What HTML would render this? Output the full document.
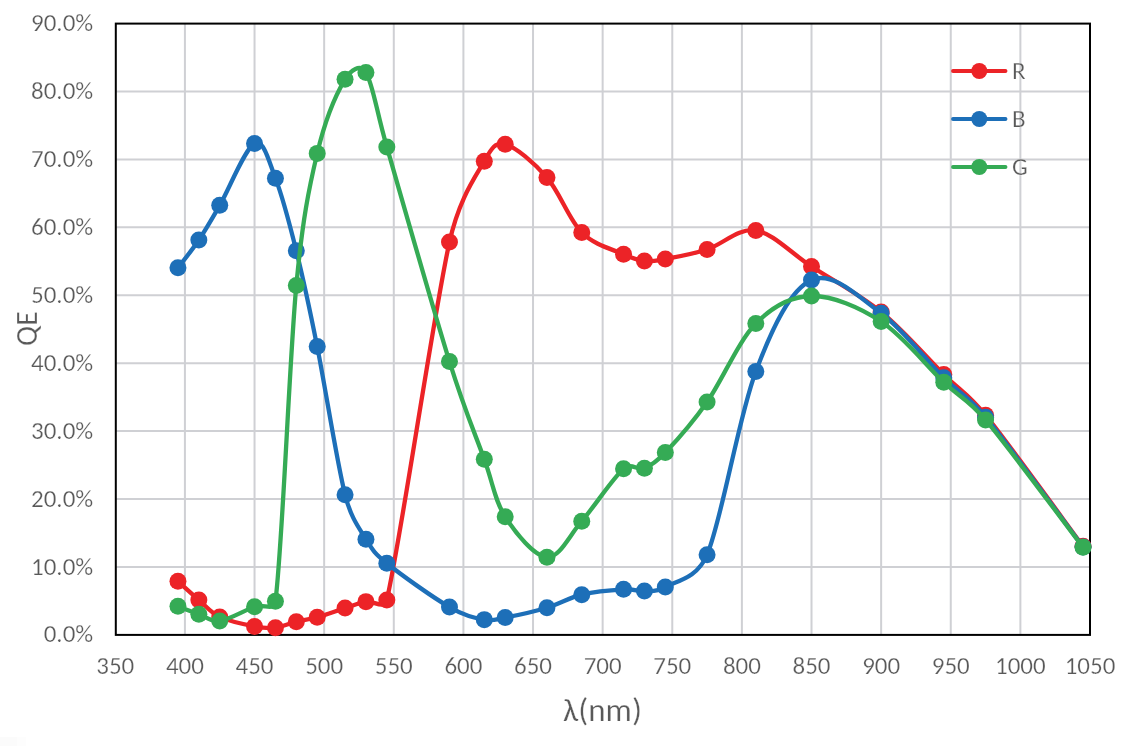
<!DOCTYPE html>
<html><head><meta charset="utf-8"><title>QE chart</title>
<style>html,body{margin:0;padding:0;background:#fff;width:1131px;height:746px;overflow:hidden}</style>
</head><body>
<svg width="1131" height="746" viewBox="0 0 1131 746" style="position:absolute;left:0;top:0;filter:blur(0.40px)">
<rect width="1131" height="746" fill="#fff"/>
<rect x="0" y="737" width="17" height="9" fill="#fbfbfb"/><rect x="17" y="737" width="9" height="9" fill="#fdfdfd"/>
<path d="M184.92,23.60V634.85M254.54,23.60V634.85M324.16,23.60V634.85M393.79,23.60V634.85M463.41,23.60V634.85M533.03,23.60V634.85M602.65,23.60V634.85M672.27,23.60V634.85M741.89,23.60V634.85M811.51,23.60V634.85M881.14,23.60V634.85M950.76,23.60V634.85M1020.38,23.60V634.85M115.30,566.93H1090.00M115.30,499.02H1090.00M115.30,431.10H1090.00M115.30,363.18H1090.00M115.30,295.27H1090.00M115.30,227.35H1090.00M115.30,159.43H1090.00M115.30,91.52H1090.00" stroke="#CFD0D4" stroke-width="2" fill="none"/>
<rect x="115.8" y="23.6" width="974.2" height="611.3" fill="none" stroke="#000" stroke-width="2"/>
<path d="M177.96,581.32 C181.44,584.43 191.88,594.00 198.85,599.93 C205.81,605.86 210.45,612.50 219.73,616.91 C229.02,621.33 245.26,624.61 254.54,626.42 C263.83,628.23 268.47,628.57 275.43,627.78 C282.39,626.99 289.35,623.42 296.32,621.67 C303.28,619.91 309.08,619.52 317.20,617.25 C325.32,614.99 336.93,610.69 345.05,608.08 C353.17,605.48 358.98,602.99 365.94,601.63 C372.90,600.27 384.45,610.14 386.82,599.93 C400.75,540.00 433.24,315.14 449.48,242.01 C459.03,199.06 475.01,177.49 484.29,161.19 C490.95,149.50 494.74,141.50 505.18,144.21 C515.62,146.93 534.19,162.78 546.95,177.49 C559.72,192.21 569.00,219.71 581.76,232.50 C594.53,245.30 613.09,249.48 623.54,254.24 C633.53,258.79 637.46,260.24 644.42,261.03 C651.38,261.82 654.99,260.89 665.31,258.99 C675.75,257.07 692.00,254.24 707.08,249.48 C722.17,244.73 738.41,227.64 755.82,230.47 C773.22,233.30 790.63,252.88 811.51,266.46 C832.40,280.05 859.09,293.97 881.14,311.97 C903.18,329.96 926.39,357.24 943.79,374.45 C961.20,391.66 967.20,392.53 985.57,415.20 C1008.77,443.84 1066.79,524.43 1083.04,546.28" stroke="#EC2327" stroke-width="4.30" fill="none" stroke-linejoin="round" stroke-linecap="round"/>
<g fill="#EC2327"><circle cx="177.96" cy="581.32" r="8.50"/><circle cx="198.85" cy="599.93" r="8.50"/><circle cx="219.73" cy="616.91" r="8.50"/><circle cx="254.54" cy="626.42" r="8.50"/><circle cx="275.43" cy="627.78" r="8.50"/><circle cx="296.32" cy="621.67" r="8.50"/><circle cx="317.20" cy="617.25" r="8.50"/><circle cx="345.05" cy="608.08" r="8.50"/><circle cx="365.94" cy="601.63" r="8.50"/><circle cx="386.82" cy="599.93" r="8.50"/><circle cx="449.48" cy="242.01" r="8.50"/><circle cx="484.29" cy="161.19" r="8.50"/><circle cx="505.18" cy="144.21" r="8.50"/><circle cx="546.95" cy="177.49" r="8.50"/><circle cx="581.76" cy="232.50" r="8.50"/><circle cx="623.54" cy="254.24" r="8.50"/><circle cx="644.42" cy="261.03" r="8.50"/><circle cx="665.31" cy="258.99" r="8.50"/><circle cx="707.08" cy="249.48" r="8.50"/><circle cx="755.82" cy="230.47" r="8.50"/><circle cx="811.51" cy="266.46" r="8.50"/><circle cx="881.14" cy="311.97" r="8.50"/><circle cx="943.79" cy="374.45" r="8.50"/><circle cx="985.57" cy="415.20" r="8.50"/><circle cx="1083.04" cy="546.28" r="8.50"/></g>
<path d="M177.96,267.82 C181.44,263.18 191.88,250.39 198.85,239.98 C205.81,229.56 210.45,221.41 219.73,205.34 C229.02,189.26 245.26,148.06 254.54,143.53 C263.83,139.01 268.47,160.29 275.43,178.17 C282.39,196.06 289.35,222.77 296.32,250.84 C303.28,278.91 309.08,305.97 317.20,346.60 C325.32,387.24 336.93,462.57 345.05,494.66 C351.08,518.48 358.98,527.72 365.94,539.15 C372.90,550.58 374.45,553.20 386.82,563.26 C400.75,574.58 433.24,597.67 449.48,607.06 C465.50,616.33 475.01,617.87 484.29,619.63 C493.58,621.38 494.87,619.55 505.18,617.59 C515.62,615.61 534.19,611.56 546.95,607.74 C559.72,603.93 569.00,597.77 581.76,594.70 C594.53,591.64 613.09,589.94 623.54,589.34 C633.98,588.74 637.46,591.49 644.42,591.10 C651.38,590.72 656.10,592.37 665.31,587.03 C675.75,580.97 696.87,579.10 707.08,554.77 C722.17,518.83 738.41,417.18 755.82,371.39 C773.22,325.61 790.63,289.72 811.51,280.05 C832.40,270.37 859.09,297.02 881.14,313.32 C903.18,329.62 926.39,360.53 943.79,377.85 C961.20,395.16 967.32,395.07 985.57,417.24 C1008.77,445.42 1066.79,525.34 1083.04,546.96" stroke="#1D6FB8" stroke-width="4.30" fill="none" stroke-linejoin="round" stroke-linecap="round"/>
<g fill="#1D6FB8"><circle cx="177.96" cy="267.82" r="8.50"/><circle cx="198.85" cy="239.98" r="8.50"/><circle cx="219.73" cy="205.34" r="8.50"/><circle cx="254.54" cy="143.53" r="8.50"/><circle cx="275.43" cy="178.17" r="8.50"/><circle cx="296.32" cy="250.84" r="8.50"/><circle cx="317.20" cy="346.60" r="8.50"/><circle cx="345.05" cy="494.66" r="8.50"/><circle cx="365.94" cy="539.15" r="8.50"/><circle cx="386.82" cy="563.26" r="8.50"/><circle cx="449.48" cy="607.06" r="8.50"/><circle cx="484.29" cy="619.63" r="8.50"/><circle cx="505.18" cy="617.59" r="8.50"/><circle cx="546.95" cy="607.74" r="8.50"/><circle cx="581.76" cy="594.70" r="8.50"/><circle cx="623.54" cy="589.34" r="8.50"/><circle cx="644.42" cy="591.10" r="8.50"/><circle cx="665.31" cy="587.03" r="8.50"/><circle cx="707.08" cy="554.77" r="8.50"/><circle cx="755.82" cy="371.39" r="8.50"/><circle cx="811.51" cy="280.05" r="8.50"/><circle cx="881.14" cy="313.32" r="8.50"/><circle cx="943.79" cy="377.85" r="8.50"/><circle cx="985.57" cy="417.24" r="8.50"/><circle cx="1083.04" cy="546.96" r="8.50"/></g>
<path d="M177.96,606.25 C181.44,607.57 191.88,611.74 198.85,614.20 C205.81,616.65 210.45,622.23 219.73,620.99 C229.02,619.74 245.26,610.01 254.54,606.73 C263.83,603.44 274.04,611.99 275.43,601.29 C282.39,547.75 289.35,360.13 296.32,285.48 C302.53,218.90 309.08,187.74 317.20,153.38 C325.32,119.03 336.93,92.82 345.05,79.35 C350.72,69.95 360.16,63.22 365.94,72.56 C372.90,83.82 376.10,109.83 386.82,146.93 C400.75,195.09 433.24,309.48 449.48,361.55 C464.94,411.10 475.01,433.48 484.29,459.35 C493.58,485.21 494.74,500.44 505.18,516.74 C515.62,533.04 534.19,556.41 546.95,557.15 C559.72,557.88 569.00,535.87 581.76,521.15 C594.53,506.43 613.09,477.68 623.54,468.85 C631.52,462.11 637.46,470.89 644.42,468.18 C651.38,465.46 656.35,462.03 665.31,452.55 C675.75,441.52 692.00,423.46 707.08,401.96 C722.17,380.45 738.41,341.17 755.82,323.51 C773.22,305.85 790.63,296.35 811.51,296.01 C832.40,295.67 859.09,307.10 881.14,321.48 C903.18,335.85 926.39,365.85 943.79,382.26 C961.20,398.67 967.42,398.46 985.57,419.95 C1008.77,447.45 1066.79,526.02 1083.04,547.23" stroke="#35AB55" stroke-width="4.30" fill="none" stroke-linejoin="round" stroke-linecap="round"/>
<g fill="#35AB55"><circle cx="177.96" cy="606.25" r="8.50"/><circle cx="198.85" cy="614.20" r="8.50"/><circle cx="219.73" cy="620.99" r="8.50"/><circle cx="254.54" cy="606.73" r="8.50"/><circle cx="275.43" cy="601.29" r="8.50"/><circle cx="296.32" cy="285.48" r="8.50"/><circle cx="317.20" cy="153.38" r="8.50"/><circle cx="345.05" cy="79.35" r="8.50"/><circle cx="365.94" cy="72.56" r="8.50"/><circle cx="386.82" cy="146.93" r="8.50"/><circle cx="449.48" cy="361.55" r="8.50"/><circle cx="484.29" cy="459.35" r="8.50"/><circle cx="505.18" cy="516.74" r="8.50"/><circle cx="546.95" cy="557.15" r="8.50"/><circle cx="581.76" cy="521.15" r="8.50"/><circle cx="623.54" cy="468.85" r="8.50"/><circle cx="644.42" cy="468.18" r="8.50"/><circle cx="665.31" cy="452.55" r="8.50"/><circle cx="707.08" cy="401.96" r="8.50"/><circle cx="755.82" cy="323.51" r="8.50"/><circle cx="811.51" cy="296.01" r="8.50"/><circle cx="881.14" cy="321.48" r="8.50"/><circle cx="943.79" cy="382.26" r="8.50"/><circle cx="985.57" cy="419.95" r="8.50"/><circle cx="1083.04" cy="547.23" r="8.50"/></g>
<g font-family="Carlito, 'Liberation Sans', sans-serif" style="font-size-adjust:0.4775" font-size="25" fill="#595959" stroke="#fff" stroke-width="0.25" text-anchor="end">
<text x="93.2" y="642.45">0.0%</text>
<text x="93.2" y="574.53">10.0%</text>
<text x="93.2" y="506.62">20.0%</text>
<text x="93.2" y="438.70">30.0%</text>
<text x="93.2" y="370.78">40.0%</text>
<text x="93.2" y="302.87">50.0%</text>
<text x="93.2" y="234.95">60.0%</text>
<text x="93.2" y="167.03">70.0%</text>
<text x="93.2" y="99.12">80.0%</text>
<text x="93.2" y="31.20">90.0%</text>
</g>
<g font-family="Carlito, 'Liberation Sans', sans-serif" style="font-size-adjust:0.4775" font-size="25" fill="#595959" stroke="#fff" stroke-width="0.25" text-anchor="middle">
<text x="115.30" y="674">350</text>
<text x="184.92" y="674">400</text>
<text x="254.54" y="674">450</text>
<text x="324.16" y="674">500</text>
<text x="393.79" y="674">550</text>
<text x="463.41" y="674">600</text>
<text x="533.03" y="674">650</text>
<text x="602.65" y="674">700</text>
<text x="672.27" y="674">750</text>
<text x="741.89" y="674">800</text>
<text x="811.51" y="674">850</text>
<text x="881.14" y="674">900</text>
<text x="950.76" y="674">950</text>
<text x="1020.38" y="674">1000</text>
<text x="1090.00" y="674">1050</text>
</g>
<text font-family="Carlito, 'Liberation Sans', sans-serif" style="font-size-adjust:0.4775" font-size="33" fill="#595959" stroke="#fff" stroke-width="0.25" text-anchor="middle" x="602.5" y="720.5">λ(nm)</text>
<text font-family="Carlito, 'Liberation Sans', sans-serif" style="font-size-adjust:0.4775" font-size="30" fill="#595959" stroke="#fff" stroke-width="0.25" text-anchor="middle" transform="translate(37,328.5) rotate(-90)">QE</text>
<path d="M953,71.0H1005.5" stroke="#EC2327" stroke-width="3.90" stroke-linecap="round"/>
<circle cx="979.3" cy="71.0" r="8.00" fill="#EC2327"/>
<text font-family="Carlito, 'Liberation Sans', sans-serif" style="font-size-adjust:0.4775" font-size="25" fill="#595959" stroke="#fff" stroke-width="0.25" x="1012" y="79.0">R</text>
<path d="M953,119.0H1005.5" stroke="#1D6FB8" stroke-width="3.90" stroke-linecap="round"/>
<circle cx="979.3" cy="119.0" r="8.00" fill="#1D6FB8"/>
<text font-family="Carlito, 'Liberation Sans', sans-serif" style="font-size-adjust:0.4775" font-size="25" fill="#595959" stroke="#fff" stroke-width="0.25" x="1012" y="127.0">B</text>
<path d="M953,167.0H1005.5" stroke="#35AB55" stroke-width="3.90" stroke-linecap="round"/>
<circle cx="979.3" cy="167.0" r="8.00" fill="#35AB55"/>
<text font-family="Carlito, 'Liberation Sans', sans-serif" style="font-size-adjust:0.4775" font-size="25" fill="#595959" stroke="#fff" stroke-width="0.25" x="1012" y="175.0">G</text>
</svg>
</body></html>
